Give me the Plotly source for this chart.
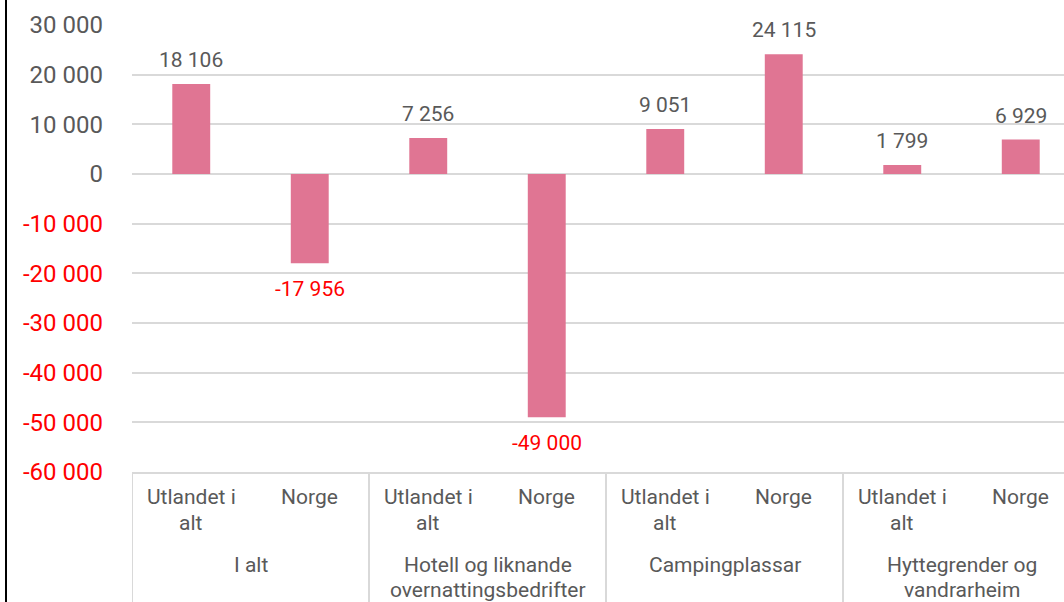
import plotly.graph_objects as go

groups = ["I alt", "I alt",
          "Hotell og liknande<br>overnattingsbedrifter", "Hotell og liknande<br>overnattingsbedrifter",
          "Campingplassar", "Campingplassar",
          "Hyttegrender og<br>vandrarheim", "Hyttegrender og<br>vandrarheim"]
subcats = ["Utlandet i<br>alt", "Norge"] * 4
values = [18106, -17956, 7256, -49000, 9051, 24115, 1799, 6929]
yticks = [30000, 20000, 10000, 0, -10000, -20000, -30000, -40000, -50000, -60000]

BAR = "#E07593"
GREY = "#595959"
RED = "#FF0000"
LINE = "#D9D9D9"
FONT = "Roboto"


def fmt(v):
    return f"{v:,}".replace(",", " ")


ticktext = [fmt(v) if v >= 0 else f'<span style="color:{RED}">{fmt(v)}</span>' for v in yticks]

fig = go.Figure()
fig.add_trace(go.Bar(
    x=[groups, subcats], y=values,
    marker=dict(color=BAR, line=dict(width=0)),
    hoverinfo="skip",
))

annotations = []
# data labels
for i, v in enumerate(values):
    annotations.append(dict(
        x=i, y=v, xref="x", yref="y",
        text=fmt(v), showarrow=False,
        yanchor="bottom" if v >= 0 else "top",
        yshift=10 if v >= 0 else -12,
        font=dict(family=FONT, size=21, color=GREY if v >= 0 else RED),
    ))

# inner category labels (one annotation per line)
for i, lab in enumerate(subcats):
    for k, line in enumerate(lab.split("<br>")):
        annotations.append(dict(
            x=i, y=0, xref="x", yref="paper", text=line, showarrow=False,
            yanchor="middle", yshift=-25 - 25.5 * k,
            font=dict(family=FONT, size=21, color=GREY),
        ))

# outer group labels
seen = []
for i, g in enumerate(groups):
    if g in seen:
        continue
    seen.append(g)
    n = groups.count(g)
    for k, line in enumerate(g.split("<br>")):
        annotations.append(dict(
            x=i + (n - 1) / 2, y=0, xref="x", yref="paper", text=line, showarrow=False,
            yanchor="middle", yshift=-93 - 25 * k,
            font=dict(family=FONT, size=21, color=GREY),
        ))

# group dividers
shapes = []
pos = 0
for g in seen:
    shapes.append(dict(type="line", xref="x", yref="paper", x0=pos - 0.5, x1=pos - 0.5,
                       y0=0, y1=-0.4, line=dict(color=LINE, width=2)))
    pos += groups.count(g)
shapes.append(dict(type="line", xref="x", yref="paper", x0=pos - 0.5, x1=pos - 0.5,
                   y0=0, y1=-0.4, line=dict(color=LINE, width=2)))
# outer frame edge (left)
shapes.append(dict(type="line", xref="paper", yref="paper",
                   x0=(6 - 132) / 948, x1=(6 - 132) / 948, y0=-1, y1=2,
                   line=dict(color="black", width=2)))

fig.update_layout(
    width=1090, height=602,
    margin=dict(l=132, r=10, t=25, b=130),
    paper_bgcolor="white", plot_bgcolor="white",
    showlegend=False,
    bargap=0.68,
    font=dict(family=FONT, size=21, color=GREY),
    xaxis=dict(
        type="multicategory",
        showticklabels=False, showdividers=False,
        showgrid=False, showline=True, linecolor=LINE, linewidth=2, ticks="",
        range=[-0.5, 7.5],
    ),
    yaxis=dict(
        range=[-60000, 30000],
        tickvals=yticks, ticktext=ticktext,
        tickfont=dict(family=FONT, size=24, color=GREY),
        showgrid=True, gridcolor=LINE, gridwidth=1.5,
        zeroline=False, showline=False, ticks="",
        ticklabelstandoff=28,
    ),
    annotations=annotations,
    shapes=shapes,
)

fig.write_html("out.html", config={"displayModeBar": False},
               post_script="document.body.style.margin='0';document.body.style.overflow='hidden';")
